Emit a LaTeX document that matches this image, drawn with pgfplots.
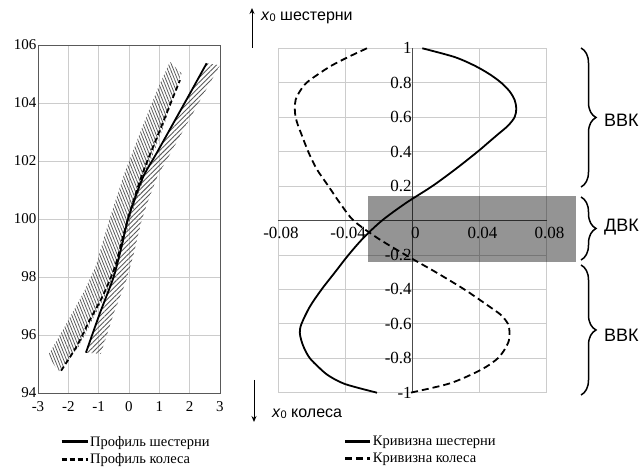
\documentclass[border=0pt]{standalone}
\usepackage{fontspec}
\setmainfont{Liberation Serif}
\newfontfamily\arialfont{Liberation Sans}
\usepackage{pgfplots}
\pgfplotsset{compat=1.18}
\usetikzlibrary{patterns.meta,decorations.pathreplacing,arrows.meta}

\begin{document}
\begin{tikzpicture}
\path[use as bounding box] (0pt,0pt) rectangle (643pt,469pt);

% ---------------- left: profiles ----------------
\begin{axis}[
  at={(38pt,76pt)}, anchor=south west,
  scale only axis, width=182pt, height=348pt,
  xmin=-3, xmax=3, ymin=94, ymax=106,
  xtick={-3,-2,-1,0,1,2,3}, xticklabels={-3,-2,-1,0,1,2,3},
  ytick={94,96,98,100,102,104,106}, yticklabels={94,96,98,100,102,104,106},
  grid=major, grid style={black!20, line width=0.8pt},
  major tick length=0pt,
  axis line style={black!65, line width=0.8pt},
  tick label style={font=\fontsize{15}{15}\selectfont},
  xticklabel style={yshift=-5pt},
  yticklabel style={xshift=2pt},
  clip=false,
  legend style={at={(0.12,-0.12)}, anchor=north west, draw=none, fill=none,
    font=\fontsize{14.5}{15}\selectfont, row sep=4pt, inner sep=0pt,
    nodes={inner sep=1pt}},
  legend cell align=left,
  legend image code/.code={\draw[#1,line width=3pt] (0pt,0pt) -- (26pt,0pt);},
]
% hatched tolerance bands
\addplot[draw=none, forget plot, pattern={Lines[angle=112,distance=2.7pt,line width=0.8pt]}, pattern color=black!65]
  coordinates {(-2.66,95.31) (-2.3,95.95) (-1.9,96.7) (-1.48,97.5) (-1.1,98.36) (-0.84,99.3) (-0.58,100.2) (-0.15,101.58) (0.40,103.07) (0.95,104.5) (1.35,105.42)
               (1.73,105.02) (1.10,103.07) (0.55,101.58) (0.10,100.2) (-0.14,99.3) (-0.38,98.36) (-0.77,97.38) (-1.21,96.52) (-1.65,95.60) (-2.33,94.73)} -- cycle;
\addplot[draw=none, forget plot, pattern={Lines[angle=45,distance=3.4pt,line width=0.9pt]}, pattern color=black!65]
  coordinates {(-1.42,95.39) (-0.96,96.75) (-0.52,97.96) (-0.30,98.82) (-0.04,99.97) (0.14,100.54) (0.47,101.46) (0.91,102.27) (1.46,103.30) (2.01,104.33) (2.56,105.37)
               (3.0,105.3) (2.47,104.33) (1.92,103.30) (1.37,102.27) (0.93,101.46) (0.60,100.54) (0.42,99.97) (0.16,98.82) (-0.06,97.96) (-0.50,96.75) (-0.93,95.35)} -- cycle;
% pinion profile
\addplot[black, line width=1.8pt, smooth]
  coordinates {(-1.42,95.39) (-0.96,96.75) (-0.52,97.96) (-0.30,98.82) (-0.04,99.97) (0.14,100.54) (0.47,101.46) (0.91,102.27) (1.46,103.30) (2.01,104.33) (2.56,105.37)};
\addlegendentry{Профиль шестерни}
% wheel profile
\addplot[black, line width=1.8pt, smooth, dash pattern=on 5pt off 3pt]
  coordinates {(-2.24,94.77) (-1.73,95.60) (-1.29,96.52) (-0.85,97.38) (-0.46,98.36) (-0.22,99.3) (0.02,100.2) (0.45,101.58) (1.02,103.07) (1.68,104.79)};
\addlegendentry{Профиль колеса}
\end{axis}

% ---------------- right: curvature ----------------
\begin{axis}[
  at={(278pt,76.3pt)}, anchor=south west,
  scale only axis, width=268.5pt, height=344.4pt,
  xmin=-0.08, xmax=0.08, ymin=-1, ymax=1,
  axis lines=middle, axis line style={-, black!70, line width=0.8pt},
  scaled x ticks=false, scaled y ticks=false,
  xtick={-0.08,-0.04,0,0.04,0.08}, xticklabels={-0.08,-0.04,0,0.04,0.08},
  ytick={-1,-0.8,-0.6,-0.4,-0.2,0,0.2,0.4,0.6,0.8,1},
  yticklabels={-1,-0.8,-0.6,-0.4,-0.2,,0.2,0.4,0.6,0.8,1},
  hide obscured x ticks=false, hide obscured y ticks=false,
  grid=major, grid style={black!20, line width=0.8pt},
  major tick length=0pt,
  tick label style={font=\fontsize{17}{17}\selectfont},
  xticklabel style={xshift=3pt, yshift=-3pt},
  yticklabel style={xshift=3pt},
  clip=false,
  legend style={at={(0.245,-0.123)}, anchor=north west, draw=none, fill=none,
    font=\fontsize{14.5}{15}\selectfont, row sep=4pt, inner sep=0pt,
    nodes={inner sep=1pt}},
  legend cell align=left,
  legend image code/.code={\draw[#1,line width=3pt] (0pt,0pt) -- (25pt,0pt);},
]
\addplot[draw=none, fill=black, fill opacity=0.42, forget plot]
  coordinates {(-0.0263,-0.24) (0.0977,-0.24) (0.0977,0.142) (-0.0263,0.142)} -- cycle;
% pinion curvature
\addplot[black, line width=1.8pt, smooth]
  coordinates {(0.006,1.0) (0.025,0.95) (0.037,0.9) (0.046,0.85) (0.053,0.8) (0.058,0.75) (0.061,0.7) (0.062,0.65) (0.061,0.6) (0.057,0.55) (0.051,0.5) (0.045,0.45) (0.039,0.4)
               (0.026,0.3) (0.012,0.2) (-0.004,0.1) (-0.018,0.0) (-0.029,-0.1) (-0.038,-0.2) (-0.046,-0.3) (-0.054,-0.4) (-0.061,-0.5) (-0.066,-0.6) (-0.067,-0.65) (-0.066,-0.7)
               (-0.064,-0.75) (-0.061,-0.8) (-0.056,-0.85) (-0.050,-0.9) (-0.040,-0.95) (-0.021,-1.0)};
\addlegendentry{Кривизна шестерни}
% wheel curvature
\addplot[black, line width=1.8pt, smooth, dash pattern=on 7pt off 4pt]
  coordinates {(-0.027,1.0) (-0.038,0.95) (-0.048,0.9) (-0.056,0.85) (-0.063,0.8) (-0.067,0.75) (-0.0695,0.7) (-0.070,0.65) (-0.0695,0.6) (-0.068,0.55) (-0.066,0.5) (-0.062,0.4)
               (-0.057,0.3) (-0.050,0.2) (-0.043,0.1) (-0.035,0.0) (-0.021,-0.1) (-0.004,-0.2) (0.014,-0.3) (0.031,-0.4) (0.046,-0.5) (0.053,-0.55) (0.057,-0.6) (0.058,-0.65)
               (0.0575,-0.7) (0.055,-0.75) (0.051,-0.8) (0.044,-0.85) (0.034,-0.9) (0.021,-0.95) (-0.001,-1.0)};
\addlegendentry{Кривизна колеса}
\end{axis}

% ---------------- annotations ----------------
\draw[-{Stealth[length=6pt,width=5pt]}, line width=1pt] (252pt,421pt) -- (252pt,461pt);
\node[anchor=west, inner sep=0pt, font=\arialfont\fontsize{16}{16}\selectfont] at (261pt,451pt)
  {\textit{x}\raisebox{-1pt}{\fontsize{11}{11}\selectfont 0} шестерни};
\draw[-{Stealth[length=6pt,width=5pt]}, line width=1pt] (254pt,89pt) -- (254pt,47pt);
\node[anchor=west, inner sep=0pt, font=\arialfont\fontsize{16}{16}\selectfont] at (272pt,55pt)
  {\textit{x}\raisebox{-1pt}{\fontsize{11}{11}\selectfont 0} колеса};

\draw[decorate, decoration={brace, amplitude=15pt}, line width=1.5pt] (581pt,421pt) -- (581pt,282pt);
\draw[decorate, decoration={brace, amplitude=15pt}, line width=1.5pt] (581pt,272pt) -- (581pt,209pt);
\draw[decorate, decoration={brace, amplitude=15pt}, line width=1.5pt] (581pt,204pt) -- (581pt,74pt);
\node[anchor=west, inner sep=0pt, font=\arialfont\fontsize{18}{18}\selectfont] at (604pt,349pt) {ВВК};
\node[anchor=west, inner sep=0pt, font=\arialfont\fontsize{18}{18}\selectfont] at (604pt,242pt) {ДВК};
\node[anchor=west, inner sep=0pt, font=\arialfont\fontsize{18}{18}\selectfont] at (604pt,134pt) {ВВК};
\end{tikzpicture}
\end{document}
